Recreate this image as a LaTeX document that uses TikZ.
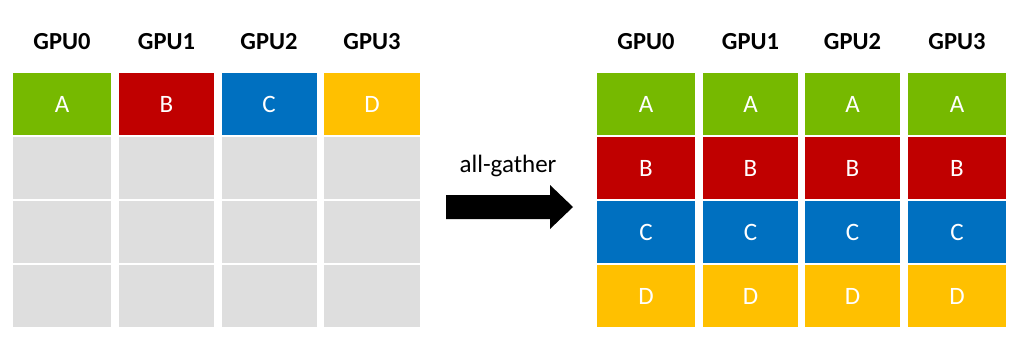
\documentclass[tikz,border=0pt]{standalone}
\usepackage{fontspec}
\setmainfont{Carlito}
\definecolor{nvgreen}{HTML}{76B900}
\definecolor{nvred}{HTML}{C00000}
\definecolor{nvblue}{HTML}{0070C0}
\definecolor{nvyellow}{HTML}{FFC000}
\definecolor{cellgray}{HTML}{DEDEDE}
\begin{document}
\begin{tikzpicture}[x=1pt,y=-1pt,
  cell/.style={draw=none,inner sep=0pt,minimum height=62pt,text=white,font=\fontsize{25}{25}\selectfont},
  gpulabel/.style={inner sep=0pt,font=\fontsize{24.5}{24.5}\selectfont\bfseries},
  oplabel/.style={inner sep=0pt,font=\fontsize{25}{25}\selectfont}]
\useasboundingbox (0,0) rectangle (1024,345);
% left grid
\foreach \name/\cx [count=\i from 0] in {L0/62,L1/166.5,L2/269,L3/372}{
  \node[gpulabel] (\name lab) at (\cx,42) {GPU\i};
}
\node[cell,fill=nvgreen,minimum width=98pt] (L0a) at (62,104) {A};
\node[cell,fill=nvred,minimum width=95pt] (L1a) at (166.5,104) {B};
\node[cell,fill=nvblue,minimum width=95pt] (L2a) at (269,104) {C};
\node[cell,fill=nvyellow,minimum width=96pt] (L3a) at (372,104) {D};
\foreach \cx/\w/\n in {62/98/0,166.5/95/1,269/95/2,372/96/3}{
  \foreach \cy/\r in {168/b,232/c,296/d}{
    \node[cell,fill=cellgray,minimum width=\w pt] (L\n\r) at (\cx,\cy) {};
  }
}
% right grid
\foreach \cx/\w/\n in {646/98/0,750.5/95/1,852.5/95/2,957/98/3}{
  \node[gpulabel] (R\n lab) at (\cx,42) {GPU\n};
  \node[cell,fill=nvgreen,minimum width=\w pt] (R\n a) at (\cx,104) {A};
  \node[cell,fill=nvred,minimum width=\w pt] (R\n b) at (\cx,168) {B};
  \node[cell,fill=nvblue,minimum width=\w pt] (R\n c) at (\cx,232) {C};
  \node[cell,fill=nvyellow,minimum width=\w pt] (R\n d) at (\cx,296) {D};
}
% arrow
\node[oplabel] (op) at (508,166) {all-gather};
\fill[black] (446,195) -- (550,195) -- (550,185) -- (573,207) -- (550,229) -- (550,219) -- (446,219) -- cycle;
\end{tikzpicture}
\end{document}
